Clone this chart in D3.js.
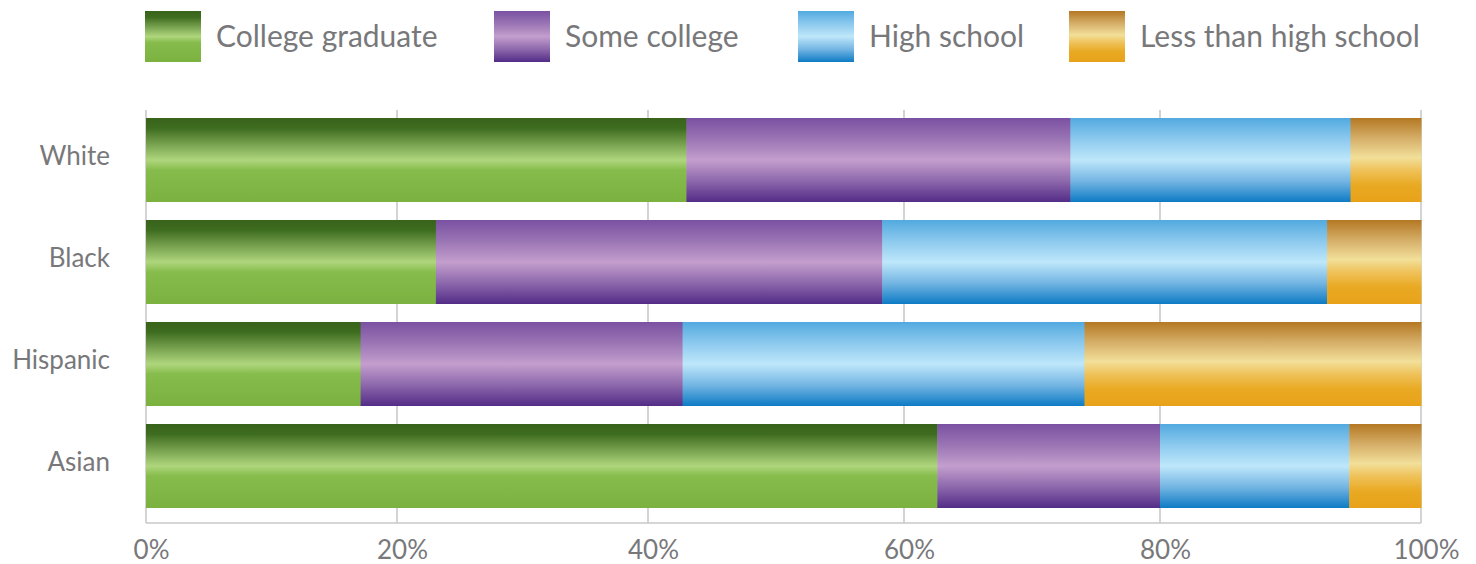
<!DOCTYPE html>
<html>
<head>
<meta charset="utf-8">
<script src="https://cdn.jsdelivr.net/npm/d3@7"></script>
<style>
  html, body { margin: 0; padding: 0; background: #fff; }
  svg { display: block; }
  text { font-family: Lato, "Open Sans", sans-serif; fill: #78787b; }
</style>
</head>
<body>
<svg id="chart" width="1476" height="564"></svg>
<script>
const categories = ["White", "Black", "Hispanic", "Asian"];
const seriesNames = ["College graduate", "Some college", "High school", "Less than high school"];
const collegeGraduate = [43.0, 23.1, 17.1, 62.6];
const someCollege = [30.0, 35.2, 25.6, 17.4];
const highSchool = [21.6, 34.5, 31.4, 14.5];
const lessThanHighSchool = [5.4, 7.2, 25.9, 5.5];
const tickValues = [0, 20, 40, 60, 80, 100];
const tickLabels = ["0%", "20%", "40%", "60%", "80%", "100%"];

const seriesValues = [collegeGraduate, someCollege, highSchool, lessThanHighSchool];
const rows = categories.map((c, i) => {
  const r = { category: c };
  seriesNames.forEach((s, j) => { r[s] = seriesValues[j][i]; });
  return r;
});

const gradients = [
  [[0, "#37631a"], [0.12, "#3e6c1f"], [0.5, "#afd67d"], [0.62, "#86bc4c"], [1, "#7ab13f"]],
  [[0, "#7a51a2"], [0.25, "#9a75b4"], [0.5, "#c39ecd"], [0.75, "#8d68ac"], [1, "#532c87"]],
  [[0, "#52aadf"], [0.25, "#8cc9ee"], [0.5, "#bee7fa"], [0.75, "#74b5e3"], [1, "#0d7bc4"]],
  [[0, "#b47823"], [0.25, "#d6b06a"], [0.47, "#f2df99"], [0.62, "#efc25a"], [0.8, "#e9a922"], [1, "#e8a21a"]]
];

const svg = d3.select("#chart");
const defs = svg.append("defs");
gradients.forEach((stops, i) => {
  const g = defs.append("linearGradient")
    .attr("id", "grad" + i)
    .attr("x1", 0).attr("y1", 0).attr("x2", 0).attr("y2", 1);
  stops.forEach(([o, c]) => g.append("stop").attr("offset", o).attr("stop-color", c));
});

const plotTop = 110, plotBottom = 523;
const x = d3.scaleLinear().domain(tickValues).range([146, 397, 648, 904, 1160, 1421]);
const y = d3.scaleBand().domain(categories).range([109, 517])
  .paddingInner(18 / 102).paddingOuter(9 / 102);

// gridlines
svg.append("g").selectAll("line").data(tickValues).join("line")
  .attr("x1", d => x(d)).attr("x2", d => x(d))
  .attr("y1", plotTop).attr("y2", plotBottom)
  .attr("stroke", "#c9c9c9").attr("stroke-width", 1.6);
svg.append("line")
  .attr("x1", x(0)).attr("x2", x(100)).attr("y1", plotBottom).attr("y2", plotBottom)
  .attr("stroke", "#c9c9c9").attr("stroke-width", 1.6);

// bars
const stacked = d3.stack().keys(seriesNames)(rows);
svg.append("g").selectAll("g").data(stacked).join("g")
  .attr("fill", (d, i) => `url(#grad${i})`)
  .selectAll("rect").data(d => d).join("rect")
  .attr("x", d => x(d[0]))
  .attr("width", d => x(d[1]) - x(d[0]) + 0.5)
  .attr("y", d => y(d.data.category))
  .attr("height", y.bandwidth());

// x axis labels
const xAxis = d3.axisBottom(x).tickValues(tickValues).tickFormat((d, i) => tickLabels[i]).tickSize(0).tickPadding(0);
const xg = svg.append("g").attr("transform", `translate(5, ${plotBottom + 36})`).call(xAxis);
xg.select(".domain").remove();
xg.selectAll("text").attr("font-size", 26).attr("font-family", "Lato, 'Open Sans', sans-serif").attr("fill", "#78787b").attr("dy", "0");

// y axis labels
const yAxis = d3.axisLeft(y).tickSize(0).tickPadding(0);
const yg = svg.append("g").attr("transform", `translate(110, -4)`).call(yAxis);
yg.select(".domain").remove();
yg.selectAll("text").attr("font-size", 26).attr("font-family", "Lato, 'Open Sans', sans-serif").attr("fill", "#78787b").attr("dy", "0.36em");

// legend
const legendX = [145, 494, 798, 1069];
const legend = svg.append("g").selectAll("g").data(seriesNames).join("g")
  .attr("transform", (d, i) => `translate(${legendX[i]}, 11)`);
legend.append("rect").attr("width", 56).attr("height", 51).attr("fill", (d, i) => `url(#grad${i})`);
legend.append("text").attr("x", 71).attr("y", 25).attr("dy", "0.36em")
  .attr("font-size", 30).text(d => d);
</script>
</body>
</html>
